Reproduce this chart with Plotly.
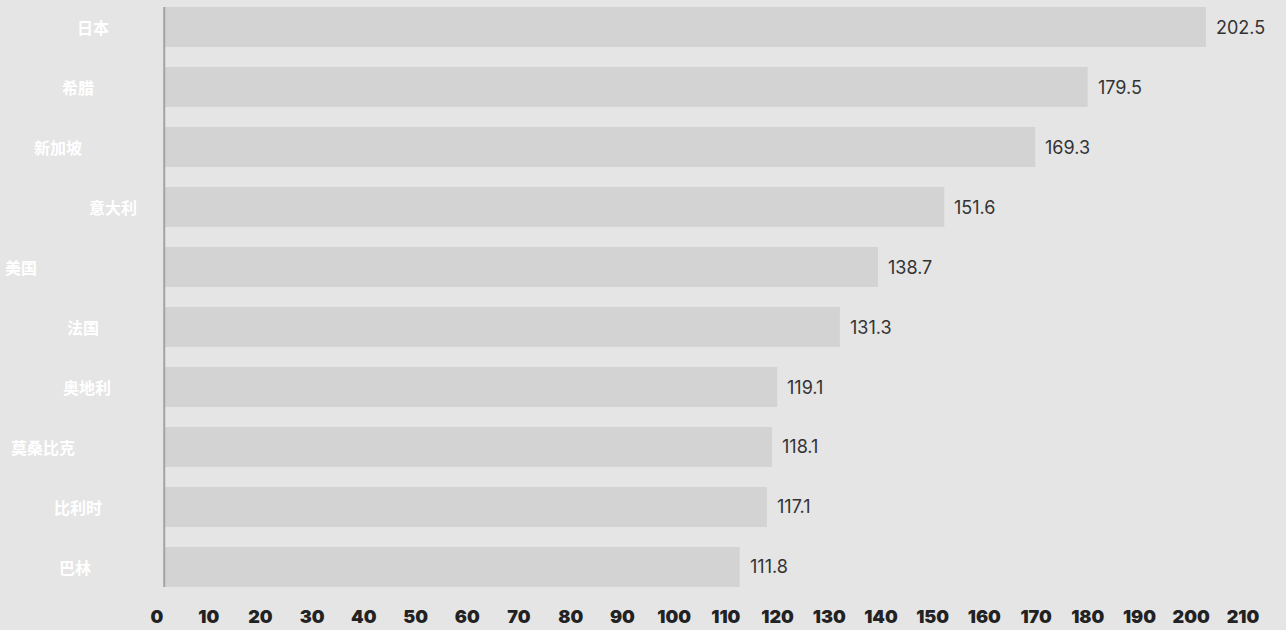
import plotly.graph_objects as go

countries = ["日本", "希腊", "新加坡", "意大利", "美国", "法国", "奥地利", "莫桑比克", "比利时", "巴林"]
values = [202.5, 179.5, 169.3, 151.6, 138.7, 131.3, 119.1, 118.1, 117.1, 111.8]
tick_vals = list(range(0, 220, 10))

# layout: horizontal pixel centers of the (scattered) category labels
label_px = [93, 78, 58, 113, 21, 83, 87, 43, 78, 75]

W, H = 1286, 630
ML, MR, MT, MB = 157, 0, 7, 43
plot_w = W - ML - MR

# bar scale: 0 -> 165px, 5.14 px/unit ; tick-label scale: 0 -> 157px, 5.171 px/unit
k_bar, x0_bar = 5.14, 165
k_tick = 5.171
bar_range = [-(x0_bar - ML) / k_bar, -(x0_bar - ML) / k_bar + plot_w / k_bar]
tick_range = [0, plot_w / k_tick]

fig = go.Figure()
fig.add_trace(go.Bar(
    x=values, y=countries, orientation="h",
    marker=dict(color="#d3d3d3", line=dict(width=0)),
    width=0.667, hoverinfo="x+y",
))
# invisible helper trace so the tick-label axis is drawn
fig.add_trace(go.Scatter(
    x=[tick_vals[0]], y=[countries[0]], xaxis="x2", mode="markers",
    marker=dict(opacity=0), hoverinfo="skip", showlegend=False,
))

for c, v in zip(countries, values):
    fig.add_annotation(
        x=v, xref="x", y=c, yref="y", text=f"{v:.1f}", showarrow=False,
        xanchor="left", yanchor="middle", xshift=8,
        font=dict(family="Inter, Roboto, sans-serif", size=18, color="#333333"),
    )

for c, px in zip(countries, label_px):
    fig.add_annotation(
        x=(px - ML) / plot_w, xref="paper", y=c, yref="y",
        text=c, showarrow=False, xanchor="center", yanchor="middle",
        font=dict(family="Noto Sans CJK SC", size=16, color="#ffffff", weight="bold"),
    )

# vertical axis line on top of bars
fig.add_shape(
    type="line", xref="x", yref="paper", x0=-0.15, x1=-0.15, y0=0, y1=1,
    line=dict(color="#a3a3a3", width=2), layer="above",
)

fig.update_layout(
    width=W, height=H,
    margin=dict(l=ML, r=MR, t=MT, b=MB, pad=0),
    paper_bgcolor="#e5e5e5", plot_bgcolor="#e5e5e5",
    showlegend=False,
    xaxis=dict(
        range=bar_range, showgrid=False, showticklabels=False,
        zeroline=False, showline=False, ticks="",
    ),
    xaxis2=dict(
        overlaying="x", side="bottom", anchor="y",
        range=tick_range, tickvals=tick_vals, showgrid=False, zeroline=False,
        showline=False, ticks="", ticklabelstandoff=17,
        tickfont=dict(family="Inter", size=18, color="#222222", weight=900),
    ),
    yaxis=dict(
        autorange=False, range=[9 + 0.3335, -0.3335],
        categoryorder="array", categoryarray=countries,
        showticklabels=False, showgrid=False, zeroline=False,
        showline=False, ticks="",
    ),
)

fig.write_html("out.html")
